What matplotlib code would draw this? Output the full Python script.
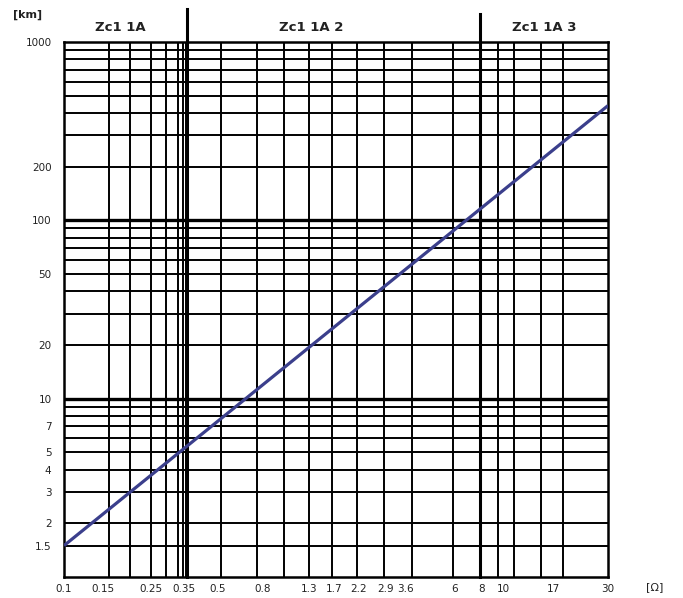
import matplotlib
matplotlib.use("Agg")
import matplotlib.pyplot as plt
from matplotlib.ticker import NullLocator, FixedLocator, FixedFormatter

# impedance grid [Ohm] and length grid [km]
x_grid = [0.16, 0.2, 0.25, 0.29, 0.33, 0.35, 0.36, 0.52, 0.76, 1.0, 1.31, 1.66,
          2.16, 2.87, 3.85, 5.9, 7.84, 9.5, 11.2, 14.9, 18.7]
zone_edges = [0.363, 7.84]
x_ticks = [0.1, 0.15, 0.25, 0.35, 0.5, 0.8, 1.3, 1.7, 2.2, 2.9, 3.6, 6, 8, 10, 17, 30]
x_labels = ["0.1", "0.15", "0.25", "0.35", "0.5", "0.8", "1.3", "1.7", "2.2", "2.9",
            "3.6", "6", "8", "10", "17", "30"]

y_grid = [1.5, 2, 3, 4, 5, 6, 7, 8, 9, 10, 20, 30, 40, 50, 60, 70, 80, 90, 100,
          200, 300, 400, 500, 600, 700, 800, 900]
y_ticks = [1.5, 2, 3, 4, 5, 7, 10, 20, 50, 100, 200, 1000]
y_labels = ["1.5", "2", "3", "4", "5", "7", "10", "20", "50", "100", "200", "1000"]

zones = ["Zc1 1A", "Zc1 1A 2", "Zc1 1A 3"]

# reach line
line_x = [0.1, 30]
line_y = [1.5, 440]

fig = plt.figure(figsize=(6.83, 5.98), dpi=100)
ax = fig.add_axes([64/683, 21/598, 544/683, 535/598])
ax.set_xscale("log")
ax.set_yscale("log")
ax.set_xlim(0.1, 30)
ax.set_ylim(1, 1000)

for v in x_grid:
    ax.axvline(v, color="black", lw=1.4, zorder=1)
for v in y_grid:
    lw = 2.4 if v in (10, 100) else 1.4
    ax.axhline(v, color="black", lw=lw, zorder=1)

# zone separators run up past the frame
ax.axvline(zone_edges[0], ymin=0, ymax=1.062, color="black", lw=2.2, clip_on=False, zorder=2)
ax.axvline(zone_edges[1], ymin=0, ymax=1.052, color="black", lw=2.2, clip_on=False, zorder=2)

ax.plot(line_x, line_y, color="#3b3f8c", lw=2.3, zorder=3, solid_capstyle="butt")

for side in ax.spines.values():
    side.set_linewidth(1.8)

ax.xaxis.set_major_locator(FixedLocator(x_ticks))
ax.xaxis.set_major_formatter(FixedFormatter(x_labels))
ax.xaxis.set_minor_locator(NullLocator())
ax.yaxis.set_major_locator(FixedLocator(y_ticks))
ax.yaxis.set_major_formatter(FixedFormatter(y_labels))
ax.yaxis.set_minor_locator(NullLocator())
ax.tick_params(axis="x", length=0, pad=5, labelsize=7.5, colors="#222222")
ax.tick_params(axis="y", length=0, pad=9, labelsize=7.5, colors="#222222")

for xf, name in zip([0.103, 0.454, 0.882], zones):
    ax.text(xf, 1.028, name, transform=ax.transAxes, ha="center", va="center",
            fontsize=9.5, fontweight="bold", color="#222222")

fig.text(28/683, 1 - 15/598, "[km]", ha="center", va="center", fontsize=8,
         fontweight="bold", color="#222222")
fig.text(655/683, 1 - 587/598, "[Ω]", ha="center", va="center", fontsize=8,
         color="#222222")

fig.savefig("out.png", dpi=100)
